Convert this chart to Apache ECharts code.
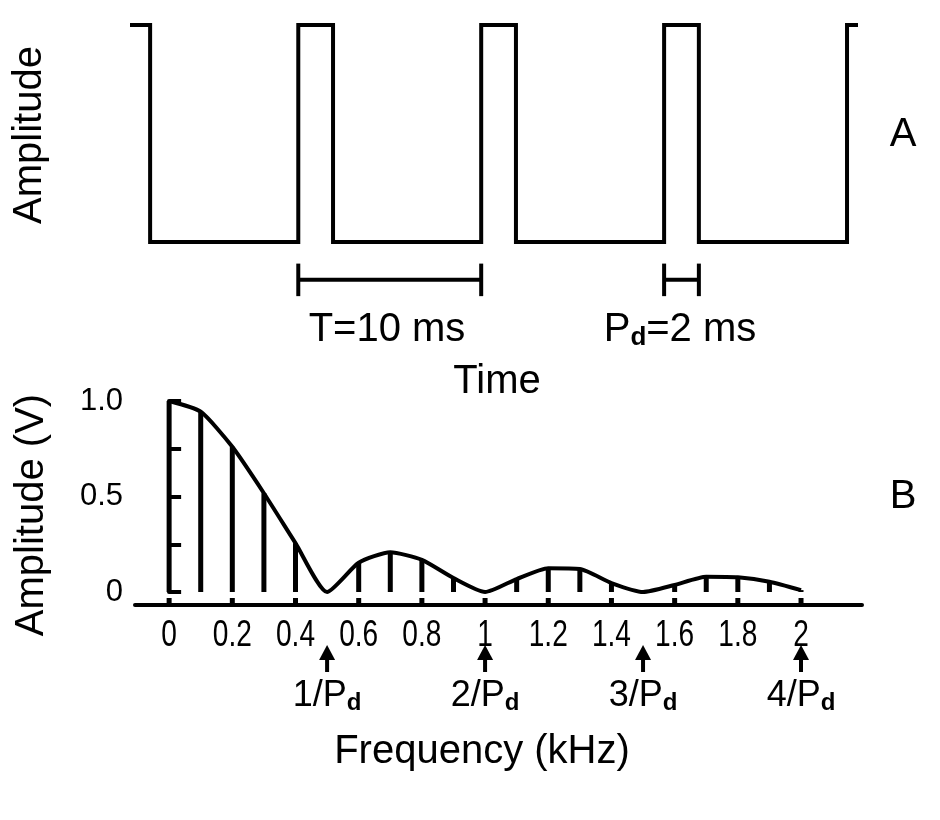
<!DOCTYPE html><html><head><meta charset="utf-8">
<script src="https://cdn.jsdelivr.net/npm/echarts@6/dist/echarts.min.js"></script>
<style>html,body{margin:0;background:#fff}#c{width:940px;height:820px}</style></head><body><div id="c"></div>
<script>
// Panel A: square wave (time in ms, amplitude normalized)
const waveTime = [-9.2,-8.1,-8.1,0,0,1.9,1.9,10,10,11.9,11.9,20,20,21.9,21.9,30,30,30.6];
const waveAmp  = [1,1,0,0,1,1,0,0,1,1,0,0,1,1,0,0,1,1];
const scaleBars = [[0,10],[20,21.9]];
// Panel B: spectrum (frequency kHz, amplitude V)
const freq = [0,0.1,0.2,0.3,0.4,0.5,0.6,0.7,0.8,0.9,1.0,1.1,1.2,1.3,1.4,1.5,1.6,1.7,1.8,1.9,2.0];
const amp  = [1.0,0.944,0.76,0.517,0.256,0,0.153,0.208,0.168,0.073,0,0.068,0.124,0.12,0.047,0,0.037,0.08,0.077,0.054,0.01];
const xTickValues = [0,0.2,0.4,0.6,0.8,1,1.2,1.4,1.6,1.8,2];
const xTickLabels = ['0','0.2','0.4','0.6','0.8','1','1.2','1.4','1.6','1.8','2'];
const arrowFreq = [0.5,1,1.5,2];
const arrowLabels = ['1','2','3','4'];

const chart = echarts.init(document.getElementById('c'));
const FF = 'Liberation Sans, Arial, sans-serif';
const barY = -0.175, cap = 0.075;
chart.setOption({
  animation:false,
  grid:[{left:130,width:728,top:25,height:295},{left:135,width:727,top:401,height:191}],
  xAxis:[{gridIndex:0,type:'value',min:-9.2,max:30.6,show:false},
         {gridIndex:1,type:'value',min:-0.108,max:2.193,offset:13,axisLine:{onZero:false,lineStyle:{color:'#000',width:4}},axisTick:{show:false},axisLabel:{show:false},splitLine:{show:false}}],
  yAxis:[{gridIndex:0,type:'value',min:-0.36,max:1,show:false},
         {gridIndex:1,type:'value',min:0,max:1,interval:0.25,
          axisLine:{show:true,lineStyle:{color:'#000',width:4}},
          axisTick:{show:true,inside:true,length:12,lineStyle:{width:4,color:'#000'}},
          splitLine:{show:false},
          axisLabel:{fontFamily:FF,fontSize:31,color:'#000',margin:12,
            formatter:v=>v===0?'0':v===0.5?'0.5':v===1?'1.0':''}}],
  series:[
    {type:'line',xAxisIndex:0,yAxisIndex:0,data:waveTime.map((t,i)=>[t,waveAmp[i]]),showSymbol:false,
     lineStyle:{color:'#000',width:4,join:'miter'}},
    {type:'custom',xAxisIndex:0,yAxisIndex:0,data:scaleBars,clip:false,
     renderItem:(p,api)=>{const a=api.coord([api.value(0),barY]),b=api.coord([api.value(1),barY]);
       const t=api.coord([0,barY+cap])[1],bt=api.coord([0,barY-cap])[1];
       const s={stroke:'#000',lineWidth:4};
       return {type:'group',children:[
         {type:'line',shape:{x1:a[0],y1:a[1],x2:b[0],y2:b[1]},style:s},
         {type:'line',shape:{x1:a[0],y1:t,x2:a[0],y2:bt},style:s},
         {type:'line',shape:{x1:b[0],y1:t,x2:b[0],y2:bt},style:s}]};}},
    {type:'bar',xAxisIndex:1,yAxisIndex:1,data:freq.map((f,i)=>[f,amp[i]]),barWidth:5,itemStyle:{color:'#000'}},
    {type:'line',xAxisIndex:1,yAxisIndex:1,data:freq.map((f,i)=>[f,amp[i]]),showSymbol:false,smooth:0.2,
     lineStyle:{color:'#000',width:4}},
    {type:'custom',xAxisIndex:1,yAxisIndex:1,data:xTickValues.map((v,i)=>[v,i]),clip:false,
     renderItem:(p,api)=>{const c=api.coord([api.value(0),0]);
       return {type:'group',children:[
         {type:'line',shape:{x1:c[0],y1:c[1]+6,x2:c[0],y2:c[1]+12},style:{stroke:'#000',lineWidth:5}},
         {type:'text',x:c[0],y:c[1]+44,scaleX:0.78,style:{text:xTickLabels[api.value(1)],fontSize:36,fontFamily:FF,fill:'#000',align:'center',verticalAlign:'middle'}}]};}},
    {type:'custom',xAxisIndex:1,yAxisIndex:1,data:arrowFreq.map((v,i)=>[v,i]),clip:false,
     renderItem:(p,api)=>{const c=api.coord([api.value(0),0]);const x=c[0];
       return {type:'group',children:[
         {type:'line',shape:{x1:x,y1:c[1]+64,x2:x,y2:c[1]+80},style:{stroke:'#000',lineWidth:4}},
         {type:'polygon',shape:{points:[[x,c[1]+53],[x-8,c[1]+68],[x+8,c[1]+68]]},style:{fill:'#000'}},
         {type:'text',x:x,y:c[1]+104,style:{text:'{n|'+arrowLabels[api.value(1)]+'/P}{s|d}',align:'center',verticalAlign:'middle',
           rich:{n:{fontSize:36,fontFamily:FF,fill:'#000'},s:{fontSize:24,fontWeight:'bold',fontFamily:FF,fill:'#000',verticalAlign:'bottom',padding:[14,0,0,0]}}}}]};}}
  ],
  graphic:[
    {type:'text',x:30,y:135,rotation:Math.PI/2,style:{text:'Amplitude',font:'40px '+FF,fill:'#000',align:'center',verticalAlign:'middle'}},
    {type:'text',x:903,y:135,style:{text:'A',font:'40px '+FF,fill:'#000',align:'center',verticalAlign:'middle'}},
    {type:'text',x:387,y:330,style:{text:'T=10 ms',font:'40px '+FF,fill:'#000',align:'center',verticalAlign:'middle'}},
    {type:'text',x:680,y:330,style:{text:'{n|P}{s|d}{n|=2 ms}',align:'center',verticalAlign:'middle',
      rich:{n:{font:'40px '+FF,fill:'#000'},s:{font:'bold 26px '+FF,fill:'#000',padding:[16,0,0,0]}}}},
    {type:'text',x:497,y:382,style:{text:'Time',font:'40px '+FF,fill:'#000',align:'center',verticalAlign:'middle'}},
    {type:'text',x:32,y:515,rotation:Math.PI/2,style:{text:'Amplitude (V)',font:'40px '+FF,fill:'#000',align:'center',verticalAlign:'middle'}},
    {type:'text',x:903,y:497,style:{text:'B',font:'40px '+FF,fill:'#000',align:'center',verticalAlign:'middle'}},
    {type:'text',x:482,y:752,style:{text:'Frequency (kHz)',font:'40px '+FF,fill:'#000',align:'center',verticalAlign:'middle'}}
  ]
});
</script></body></html>
